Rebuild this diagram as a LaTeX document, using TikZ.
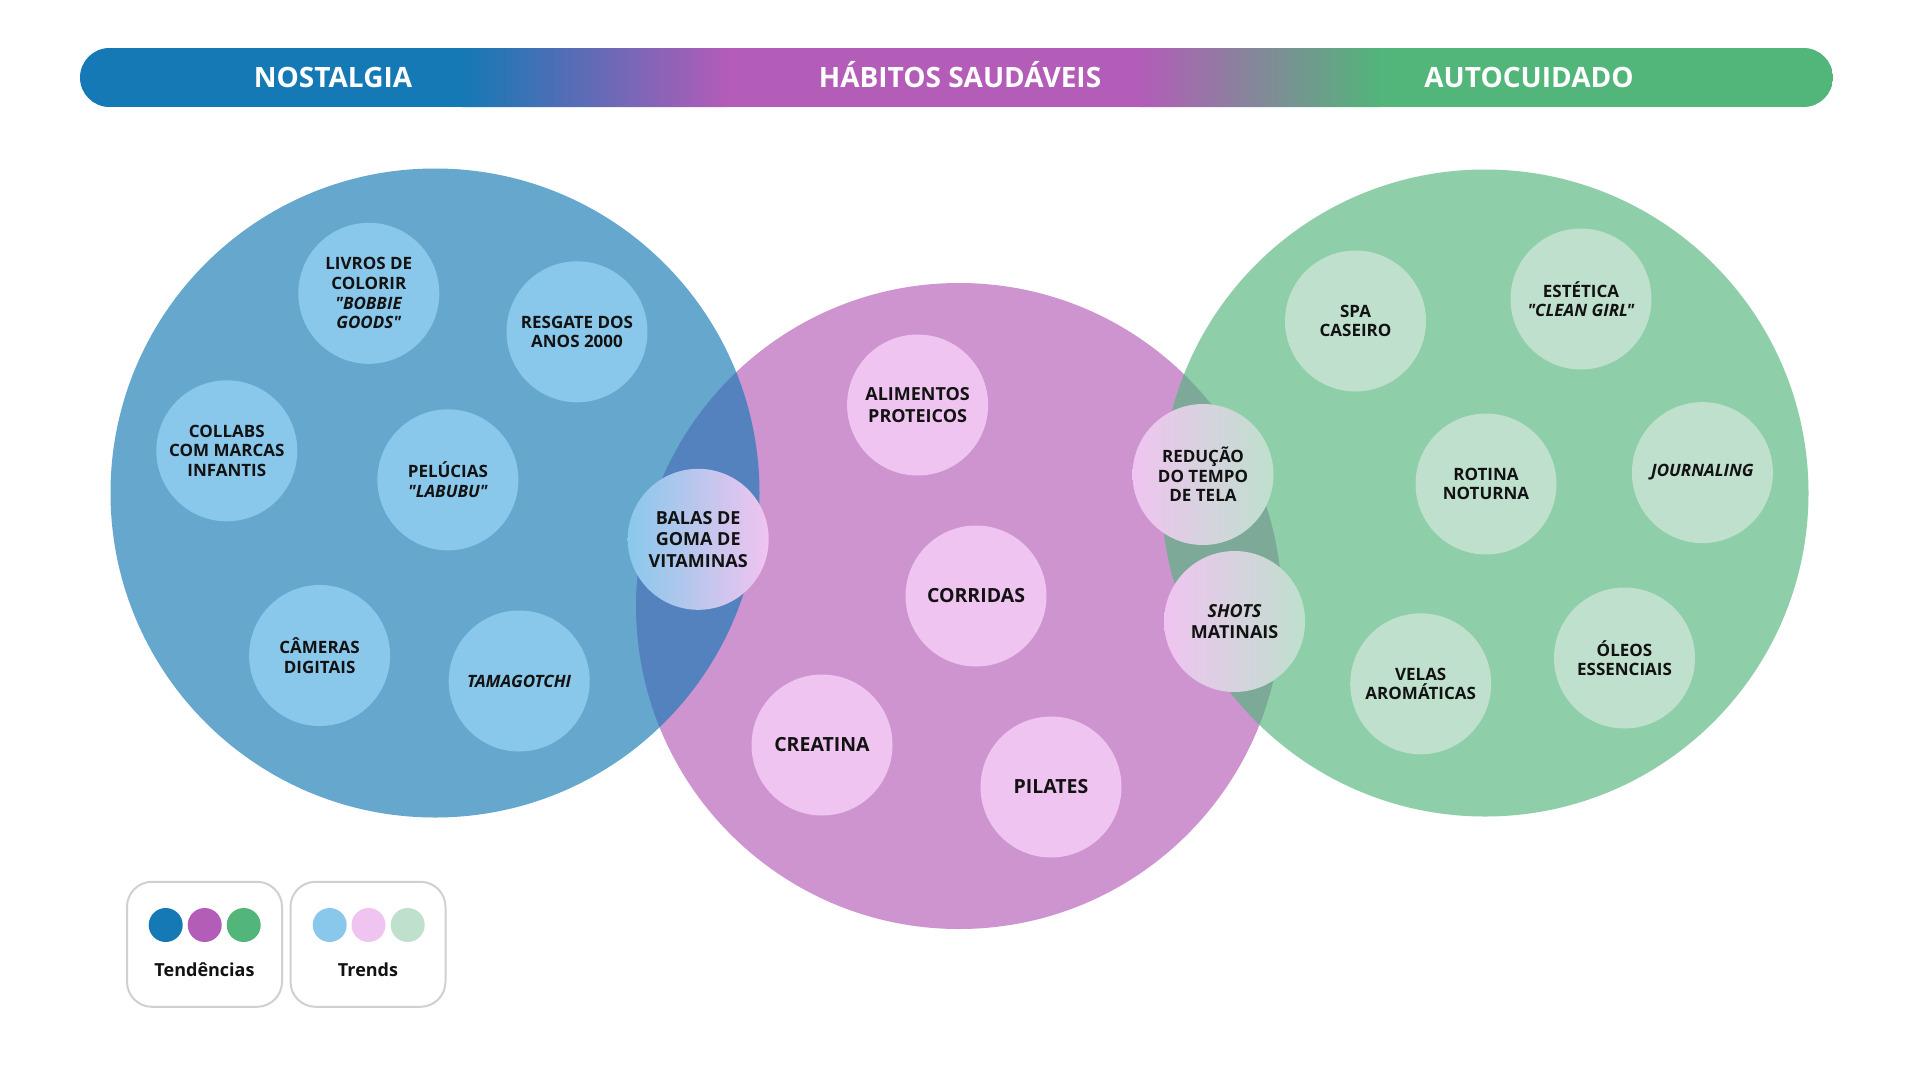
\documentclass[tikz,border=0pt]{standalone}
\usepackage{fontspec}
\setmainfont{Open Sans}[Ligatures=TeXOff]
\definecolor{cblue}{HTML}{1479B5}
\definecolor{cpurple}{HTML}{B35CB8}
\definecolor{cgreen}{HTML}{52B57A}
\definecolor{lblue}{HTML}{89C8EB}
\definecolor{lpink}{HTML}{F0C4F0}
\definecolor{lgreen}{HTML}{BEE0CD}
\definecolor{ink}{HTML}{121212}
\definecolor{legline}{HTML}{D0D0D0}
\tikzset{
  bigc/.style={circle, minimum size=#1, inner sep=0pt, fill opacity=0.65},
  bub/.style={circle, minimum size=141pt, inner sep=0pt, align=center, text=ink,
    font=\bfseries\fontsize{17}{19.6}\selectfont},
  bubm/.style={bub, font=\bfseries\fontsize{18}{21.4}\selectfont},
  bubl/.style={bub, font=\bfseries\fontsize{19.5}{22}\selectfont},
  headtext/.style={anchor=base, text=white, font=\bfseries\fontsize{28}{32}\selectfont},
  legbox/.style={rectangle, rounded corners=25pt, draw=legline, line width=2pt,
    fill=white, minimum width=155pt, minimum height=125pt, inner sep=0pt},
  legdot/.style={circle, minimum size=34pt, inner sep=0pt},
  legtext/.style={anchor=base, text=ink, font=\bfseries\fontsize{18}{21}\selectfont}
}
\begin{document}
\begin{tikzpicture}[x=1pt,y=-1pt]
\useasboundingbox (0,0) rectangle (1920,1080);
\fill[white] (0,0) rectangle (1920,1080);
% header bar
\begin{scope}
  \clip[rounded corners=29.5pt] (80,48) rectangle (1833,107);
  \fill[cblue] (80,48) rectangle (463,107);
  \shade[left color=cblue, right color=cpurple] (462,48) rectangle (727,107);
  \fill[cpurple] (726,48) rectangle (1140,107);
  \shade[left color=cpurple, right color=cgreen] (1139,48) rectangle (1381,107);
  \fill[cgreen] (1380,48) rectangle (1833,107);
\end{scope}
\node[headtext] (tnost) at (333,87) {NOSTALGIA};
\node[headtext] (thab) at (960,87) {HÁBITOS SAUDÁVEIS};
\node[headtext] (tauto) at (1529,87) {AUTOCUIDADO};
% big circles
\node[bigc=646pt, fill=cpurple] (habitos) at (959,606) {};
\node[bigc=649pt, fill=cblue] (nostalgia) at (435,493) {};
\node[bigc=647pt, fill=cgreen] (autocuidado) at (1485,493) {};
% nostalgia trends
\node[bub, fill=lblue] (livros) at (368.8,293.3) {LIVROS DE\\COLORIR\\\textit{"BOBBIE}\\\textit{GOODS"}};
\node[bub, fill=lblue] (resgate) at (577,331.8) {RESGATE DOS\\ANOS 2000};
\node[bub, fill=lblue] (collabs) at (226.8,450.8) {COLLABS\\COM MARCAS\\INFANTIS};
\node[bub, fill=lblue] (pelucias) at (447.9,479.8) {PELÚCIAS\\\textit{"LABUBU"}};
\node[bub, fill=lblue] (cameras) at (319.6,655.5) {CÂMERAS\\DIGITAIS};
\node[bub, fill=lblue] (tamagotchi) at (519.2,681) {\textit{TAMAGOTCHI}};
\node[bubm, left color=lblue, right color=lpink] (balas) at (698.2,539.3) {BALAS DE\\GOMA DE\\VITAMINAS};
% habitos trends
\node[bubm, fill=lpink] (alimentos) at (917.6,405) {ALIMENTOS\\PROTEICOS};
\node[bubl, fill=lpink] (corridas) at (976,596) {CORRIDAS};
\node[bubl, fill=lpink] (creatina) at (822,745) {CREATINA};
\node[bubl, fill=lpink] (pilates) at (1051,787) {PILATES};
\node[bub, left color=lpink, right color=lgreen] (reducao) at (1203,474.5) {REDUÇÃO\\DO TEMPO\\DE TELA};
\node[bubm, left color=lpink, right color=lgreen] (shots) at (1234.6,621.5) {\textit{SHOTS}\\MATINAIS};
% autocuidado trends
\node[bub, fill=lgreen] (spa) at (1355.5,321) {SPA\\CASEIRO};
\node[bub, fill=lgreen] (estetica) at (1581,299) {ESTÉTICA\\\textit{"CLEAN GIRL"}};
\node[bub, fill=lgreen] (rotina) at (1486,484) {ROTINA\\NOTURNA};
\node[bub, fill=lgreen] (journaling) at (1702.4,472.6) {\textit{JOURNALING}};
\node[bub, fill=lgreen] (velas) at (1420.7,683.8) {VELAS\\AROMÁTICAS};
\node[bub, fill=lgreen] (oleos) at (1624.5,658) {ÓLEOS\\ESSENCIAIS};
% legend
\node[legbox] (leg1) at (204.5,944.3) {};
\node[legbox] (leg2) at (368,944.3) {};
\node[legdot, fill=cblue] (d1) at (165.7,925) {};
\node[legdot, fill=cpurple] (d2) at (204.7,925) {};
\node[legdot, fill=cgreen] (d3) at (243.7,925) {};
\node[legdot, fill=lblue] (d4) at (329.7,925) {};
\node[legdot, fill=lpink] (d5) at (368.5,925) {};
\node[legdot, fill=lgreen] (d6) at (407.7,925) {};
\node[legtext] (lt1) at (204.5,976) {Tendências};
\node[legtext] (lt2) at (368,976) {Trends};
\end{tikzpicture}
\end{document}
